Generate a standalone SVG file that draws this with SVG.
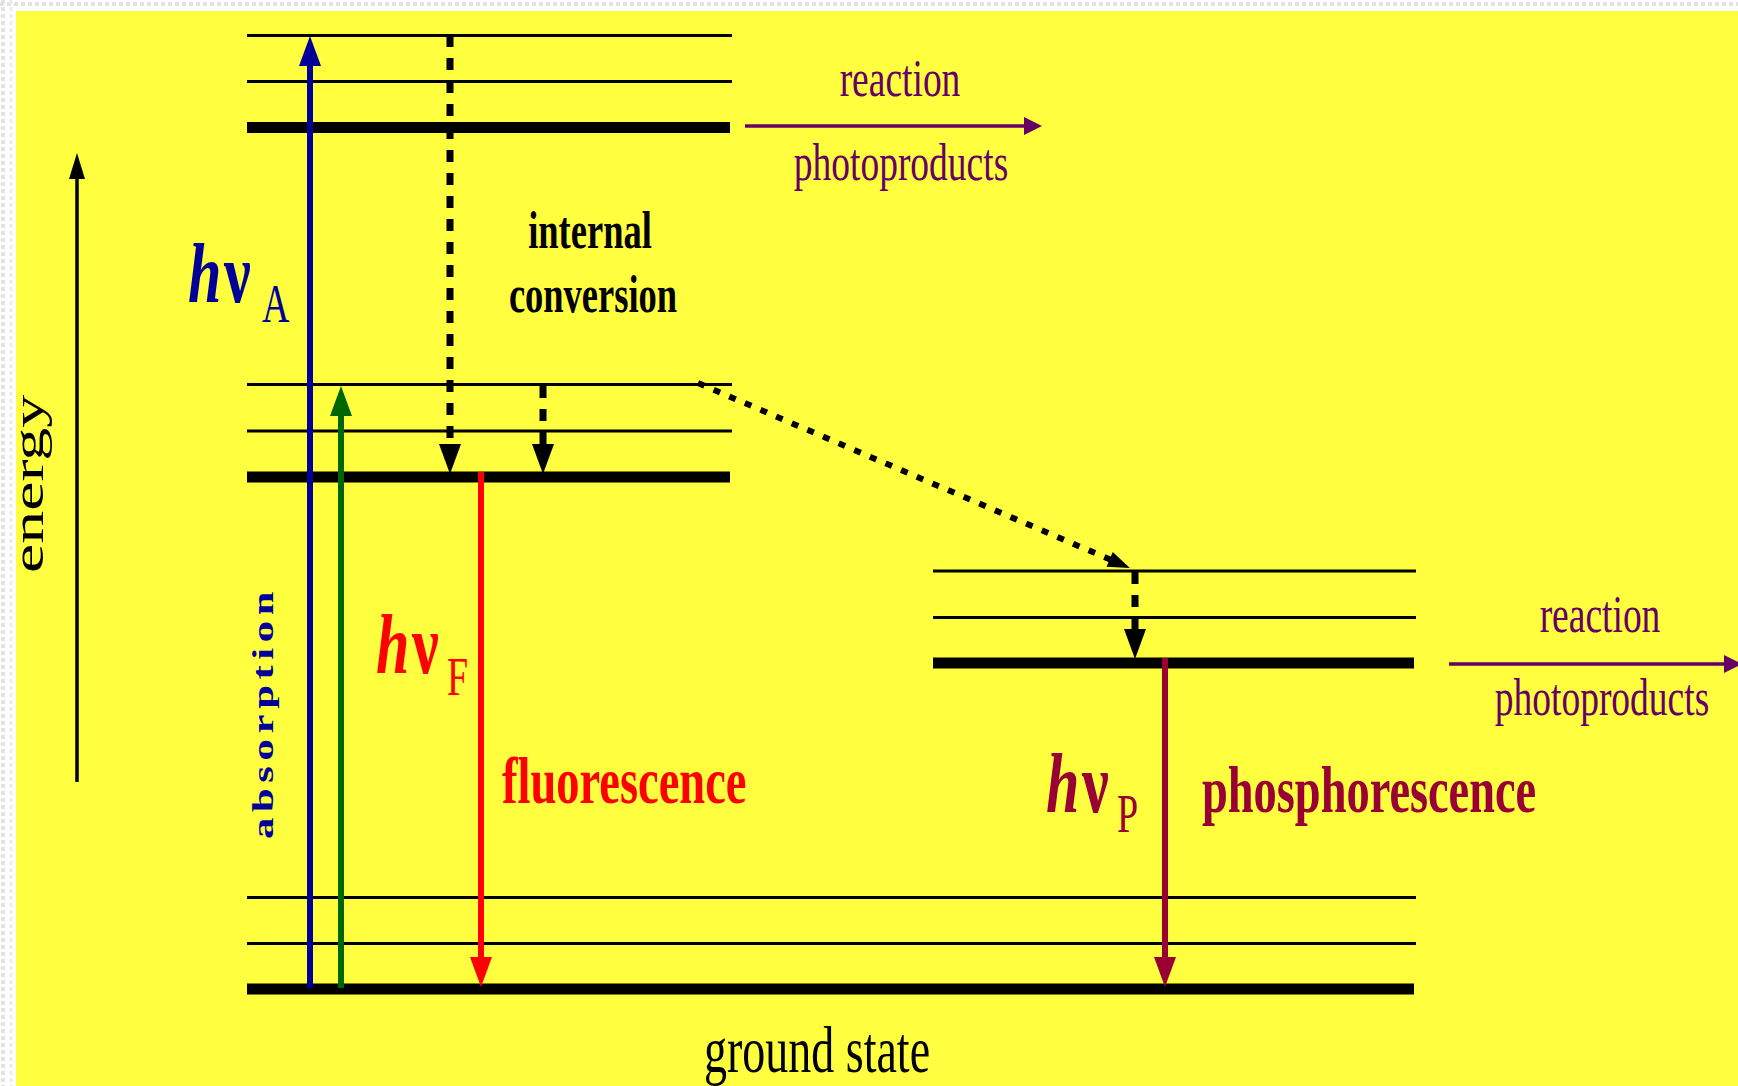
<svg xmlns="http://www.w3.org/2000/svg" width="1738" height="1086" viewBox="0 0 1738 1086">
<style>
.t{font-family:"Liberation Serif","Times New Roman",serif;}
.b{font-weight:bold;}
.i{font-style:italic;}
.thin{stroke:#000;stroke-width:3;fill:none;}
.thick{stroke:#000;stroke-width:11;fill:none;}
.purple{fill:#660066;}
.blue{fill:#000099;}
.red{fill:#ff0000;}
.dkred{fill:#990033;}
.blk{fill:#000;}
.dash{stroke:#000;stroke-width:7;stroke-dasharray:12 11;fill:none;}
</style>
<defs>
<marker id="hBlue" markerUnits="userSpaceOnUse" markerWidth="30" markerHeight="22" refX="10" refY="11" orient="auto" overflow="visible"><path d="M0,0 L30,11 L0,22 z" fill="#000099"/></marker>
<marker id="hGreen" markerUnits="userSpaceOnUse" markerWidth="30" markerHeight="22" refX="10" refY="11" orient="auto" overflow="visible"><path d="M0,0 L30,11 L0,22 z" fill="#006600"/></marker>
<marker id="hRed" markerUnits="userSpaceOnUse" markerWidth="30" markerHeight="22" refX="10" refY="11" orient="auto" overflow="visible"><path d="M0,0 L30,11 L0,22 z" fill="#ff0000"/></marker>
<marker id="hDkRed" markerUnits="userSpaceOnUse" markerWidth="30" markerHeight="22" refX="10" refY="11" orient="auto" overflow="visible"><path d="M0,0 L30,11 L0,22 z" fill="#990033"/></marker>
<marker id="hBlack" markerUnits="userSpaceOnUse" markerWidth="30" markerHeight="22" refX="10" refY="11" orient="auto" overflow="visible"><path d="M0,0 L30,11 L0,22 z" fill="#000"/></marker>
<marker id="hBlackS" markerUnits="userSpaceOnUse" markerWidth="22" markerHeight="16" refX="8" refY="8" orient="auto" overflow="visible"><path d="M0,0 L22,8 L0,16 z" fill="#000"/></marker>
<marker id="hEnergy" markerUnits="userSpaceOnUse" markerWidth="26" markerHeight="16" refX="8" refY="8" orient="auto" overflow="visible"><path d="M0,0 L26,8 L0,16 z" fill="#000"/></marker>
<marker id="hPurple" markerUnits="userSpaceOnUse" markerWidth="18" markerHeight="18" refX="6" refY="9" orient="auto" overflow="visible"><path d="M0,0 L18,9 L0,18 z" fill="#660066"/></marker>
</defs>

<rect width="1738" height="1086" fill="#ffffff"/>
<line x1="0" y1="4" x2="1738" y2="4" stroke="#e2e2e2" stroke-width="4" stroke-dasharray="4 3"/>
<line x1="3" y1="0" x2="3" y2="1086" stroke="#e2e2e2" stroke-width="4" stroke-dasharray="4 3"/>
<line x1="11" y1="0" x2="11" y2="1086" stroke="#ececec" stroke-width="3" stroke-dasharray="4 3"/>
<rect x="16" y="11" width="1722" height="1075" fill="#ffff40"/>

<g id="level-S2">
<line class="thin" x1="247" y1="35.5" x2="732" y2="35.5"/>
<line class="thin" x1="247" y1="81.5" x2="732" y2="81.5"/>
<line class="thick" x1="247" y1="127.5" x2="730" y2="127.5"/>
</g>
<g id="level-S1">
<line class="thin" x1="247" y1="384.5" x2="732" y2="384.5"/>
<line class="thin" x1="247" y1="431" x2="732" y2="431"/>
<line class="thick" x1="247" y1="477" x2="730" y2="477"/>
</g>
<g id="level-T1">
<line class="thin" x1="933" y1="571" x2="1416" y2="571"/>
<line class="thin" x1="933" y1="617.5" x2="1416" y2="617.5"/>
<line class="thick" x1="933" y1="663" x2="1414" y2="663"/>
</g>
<g id="level-ground">
<line class="thin" x1="247" y1="897.5" x2="1416" y2="897.5"/>
<line class="thin" x1="247" y1="943.5" x2="1416" y2="943.5"/>
<line class="thick" x1="247" y1="989" x2="1414" y2="989"/>
<text class="t" font-size="46" text-anchor="middle" transform="translate(817,1072) scale(1,1.42)">ground state</text>
</g>

<g id="connectors">
<line x1="77" y1="782" x2="77" y2="171" stroke="#000" stroke-width="3.5" marker-end="url(#hEnergy)"/>
<line x1="310" y1="988" x2="310" y2="56" stroke="#000099" stroke-width="6" marker-end="url(#hBlue)"/>
<line x1="341" y1="988" x2="341" y2="406" stroke="#006600" stroke-width="6" marker-end="url(#hGreen)"/>
<line x1="481" y1="472" x2="481" y2="967" stroke="#ff0000" stroke-width="6" marker-end="url(#hRed)"/>
<line x1="1165" y1="658" x2="1165" y2="967" stroke="#990033" stroke-width="6" marker-end="url(#hDkRed)"/>
<line class="dash" x1="450" y1="35" x2="450" y2="454" marker-end="url(#hBlack)"/>
<line class="dash" x1="543" y1="386" x2="543" y2="454" marker-end="url(#hBlack)"/>
<line class="dash" x1="1135" y1="572" x2="1135" y2="639" marker-end="url(#hBlack)"/>
<line x1="698" y1="383" x2="1117" y2="562.5" stroke="#000" stroke-width="6" stroke-dasharray="7 10" marker-end="url(#hBlackS)"/>
<line x1="745" y1="126" x2="1030" y2="126" stroke="#660066" stroke-width="3.5" marker-end="url(#hPurple)"/>
<line x1="1449" y1="664" x2="1730" y2="664" stroke="#660066" stroke-width="3.5" marker-end="url(#hPurple)"/>
</g>

<g id="label-energy">
<text class="t blk" font-size="44" transform="translate(43,573) rotate(-90) scale(1.5,1)">energy</text>
</g>
<g id="label-absorption">
<text class="t b blue" font-size="30" letter-spacing="4" transform="translate(273,839) rotate(-90) scale(1.42,1)">absorption</text>
</g>
<g id="label-hvA">
<text class="t blue" transform="translate(188,302) scale(1,1.42)"><tspan class="b i" font-size="60">h</tspan><tspan class="b" x="36" font-size="60">ν</tspan><tspan x="74" y="14" font-size="38">A</tspan></text>
</g>
<g id="label-hvF">
<text class="t red" transform="translate(376,673) scale(1,1.42)"><tspan class="b i" font-size="60">h</tspan><tspan class="b" x="36" font-size="60">ν</tspan><tspan x="71" y="15.5" font-size="38">F</tspan></text>
</g>
<g id="label-hvP">
<text class="t dkred" transform="translate(1046,812) scale(1,1.42)"><tspan class="b i" font-size="60">h</tspan><tspan class="b" x="36" font-size="60">ν</tspan><tspan x="71" y="14" font-size="38">P</tspan></text>
</g>
<g id="label-internal-conversion">
<text class="t b blk" font-size="36.5" text-anchor="middle" transform="translate(590,248) scale(1,1.42)">internal</text>
<text class="t b blk" font-size="36.5" text-anchor="middle" transform="translate(593,312) scale(1,1.42)">conversion</text>
</g>
<g id="label-fluorescence">
<text class="t b red" font-size="46.5" transform="translate(502,803) scale(1,1.42)">fluorescence</text>
</g>
<g id="label-phosphorescence">
<text class="t b dkred" font-size="46.4" transform="translate(1202,812) scale(1,1.42)">phosphorescence</text>
</g>
<g id="label-reaction-S2">
<text class="t purple" font-size="37.5" text-anchor="middle" transform="translate(900,96) scale(1,1.42)">reaction</text>
<text class="t purple" font-size="37.5" text-anchor="middle" transform="translate(901,180) scale(1,1.42)">photoproducts</text>
</g>
<g id="label-reaction-T1">
<text class="t purple" font-size="37.5" text-anchor="middle" transform="translate(1600,632) scale(1,1.42)">reaction</text>
<text class="t purple" font-size="37.5" text-anchor="middle" transform="translate(1602,715) scale(1,1.42)">photoproducts</text>
</g>
</svg>
